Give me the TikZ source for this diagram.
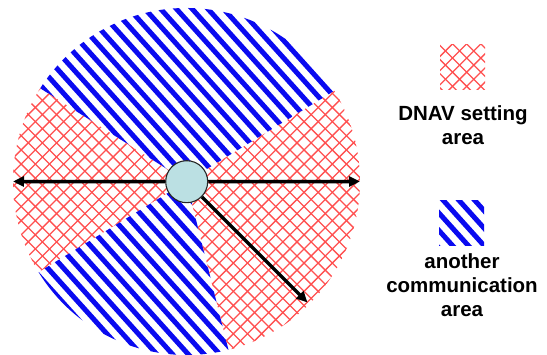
\documentclass[tikz,border=0pt]{standalone}
\usepackage{fontspec}
\setmainfont{Liberation Sans}
\usetikzlibrary{arrows.meta}
\definecolor{hubfill}{RGB}{187,224,227}
\definecolor{hatchred}{RGB}{255,80,80}
\definecolor{stripeblue}{RGB}{10,10,240}
\tikzset{
  stripeline/.style={line width=5pt, stripeblue},
  hatchline/.style={line width=1.3pt, hatchred},
  ray/.style={line width=3.5pt, -{Triangle[length=11pt,width=10pt]}},
  hubstyle/.style={circle, draw=black!85, line width=1.1pt, fill=hubfill, minimum size=42pt, inner sep=0pt},
  legtext/.style={font=\bfseries\fontsize{20.5}{24}\selectfont, align=center, anchor=north, inner sep=0pt},
}
\newcommand\bluestripes{%
  \begin{scope}[rotate=-48]
    \foreach \k in {-60,...,60} \draw[stripeline] (-700,\k*11.7) -- (700,\k*11.7);
  \end{scope}}
\newcommand\redhatch{%
  \begin{scope}[rotate=45]
    \foreach \k in {-70,...,70} \draw[hatchline] (-700,\k*10) -- (700,\k*10);
  \end{scope}
  \begin{scope}[rotate=-45]
    \foreach \k in {-70,...,70} \draw[hatchline] (-700,\k*10) -- (700,\k*10);
  \end{scope}}
\begin{document}
\begin{tikzpicture}[x=1pt,y=1pt]
\useasboundingbox (0,0) rectangle (547,355);
\coordinate (C) at (186.5,173.5);
\def\R{173.5}
% top blue sector
\begin{scope}
  \clip (C) -- +(31.5:\R) arc[start angle=31.5, end angle=147.5, radius=\R] -- cycle;
  \bluestripes
\end{scope}
% left red sector
\begin{scope}
  \clip (C) -- +(147.5:\R) arc[start angle=147.5, end angle=211.5, radius=\R] -- cycle;
  \redhatch
\end{scope}
% bottom blue sector
\begin{scope}
  \clip (C) -- +(211.5:\R) arc[start angle=211.5, end angle=284, radius=\R] -- cycle;
  \bluestripes
\end{scope}
% right red sector
\begin{scope}
  \clip (C) -- +(284:\R) arc[start angle=284, end angle=391.5, radius=\R] -- cycle;
  \redhatch
\end{scope}
% hub and rays
\node[hubstyle] (hub) at (186.7,173.3) {};
\coordinate (ltip) at (13,173.5);
\coordinate (rtip) at (360,173.5);
\coordinate (dtip) at (307.5,52.5);
\draw[ray] (hub) -- (ltip);
\draw[ray] (hub) -- (rtip);
\draw[ray] (hub) -- (dtip);
% legend
\begin{scope}
  \clip (440,265) rectangle (485,310);
  \redhatch
\end{scope}
\begin{scope}
  \clip (439,109) rectangle (484,154);
  \bluestripes
\end{scope}
\node[legtext] (dnav) at (463,250) {DNAV setting\\area};
\node[legtext] (other) at (462,101.5) {another\\communication\\area};
\end{tikzpicture}
\end{document}
